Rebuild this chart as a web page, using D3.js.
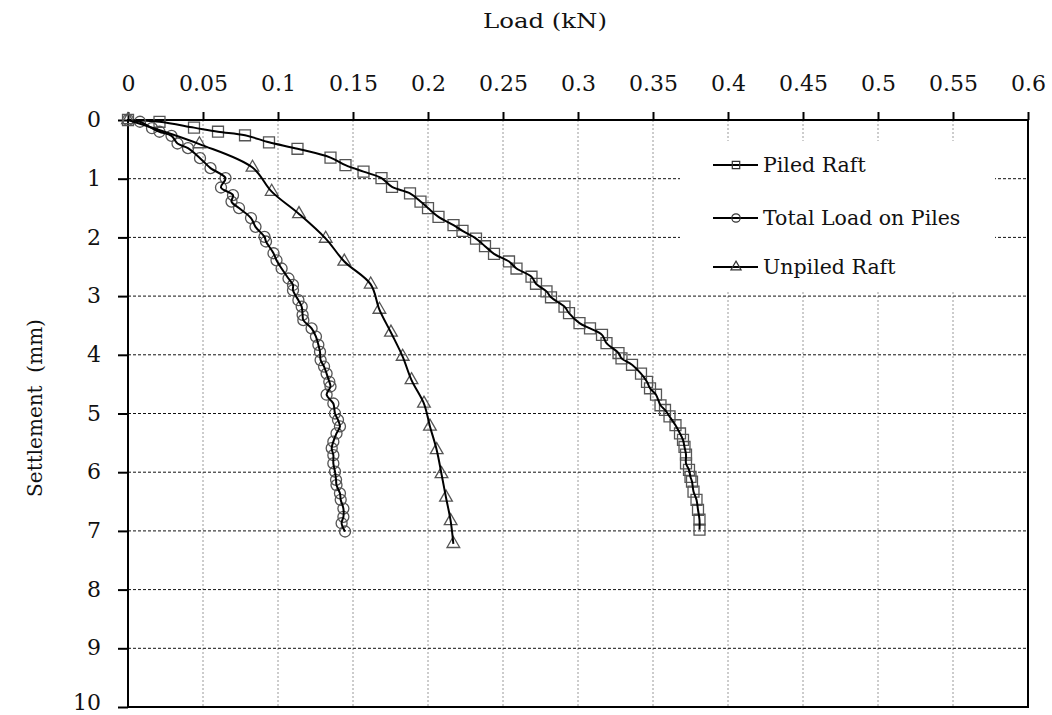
<!DOCTYPE html>
<html>
<head>
<meta charset="utf-8">
<script src="https://cdn.jsdelivr.net/npm/d3@7"></script>
<style>
html,body{margin:0;padding:0;background:#fff;}
svg{display:block;}
text{font-family:"DejaVu Serif",serif;fill:#111;}
</style>
</head>
<body>
<svg id="chart" width="1052" height="715"></svg>
<script>
// ---- data (load kN, settlement mm) ----
const seriesNames = ["Piled Raft", "Total Load on Piles", "Unpiled Raft"];
const xTicks = [0,0.05,0.1,0.15,0.2,0.25,0.3,0.35,0.4,0.45,0.5,0.55,0.6];
const xTickLabels = ["0","0.05","0.1","0.15","0.2","0.25","0.3","0.35","0.4","0.45","0.5","0.55","0.6"];
const yTicks = [0,1,2,3,4,5,6,7,8,9,10];

const piledRaftLoad = [0,0.021,0.044,0.060,0.078,0.094,0.113,0.135,0.145,0.157,0.169,0.176,0.188,0.195,0.200,0.207,0.217,0.223,0.232,0.238,0.244,0.254,0.259,0.269,0.272,0.279,0.282,0.291,0.294,0.301,0.308,0.316,0.319,0.327,0.329,0.336,0.342,0.346,0.348,0.352,0.355,0.358,0.361,0.365,0.368,0.370,0.371,0.372,0.372,0.374,0.375,0.376,0.377,0.379,0.380,0.381,0.381];
const piledRaftSettle = [0,0.03,0.13,0.20,0.26,0.38,0.49,0.64,0.77,0.88,0.99,1.14,1.25,1.39,1.50,1.65,1.79,1.89,2.02,2.15,2.28,2.41,2.53,2.67,2.79,2.92,3.02,3.18,3.29,3.46,3.55,3.66,3.80,3.97,4.06,4.17,4.32,4.46,4.57,4.68,4.86,4.94,5.05,5.20,5.34,5.45,5.57,5.70,5.85,5.96,6.08,6.16,6.33,6.47,6.64,6.81,6.98];

const pilesLoad = [0,0.008,0.016,0.021,0.029,0.033,0.040,0.048,0.055,0.065,0.062,0.070,0.069,0.074,0.082,0.085,0.091,0.092,0.097,0.099,0.1024,0.107,0.110,0.110,0.1136,0.1158,0.1164,0.1169,0.1224,0.1253,0.1269,0.128,0.1284,0.1307,0.1324,0.1342,0.135,0.1324,0.1369,0.138,0.140,0.1413,0.139,0.1369,0.1358,0.1369,0.1369,0.138,0.1387,0.139,0.1413,0.1418,0.1436,0.1436,0.1424,0.1447];
const pilesSettle = [0,0.03,0.14,0.20,0.27,0.40,0.48,0.65,0.82,0.99,1.15,1.28,1.39,1.50,1.67,1.82,1.99,2.07,2.27,2.39,2.53,2.70,2.81,2.90,3.07,3.18,3.32,3.41,3.55,3.69,3.83,3.95,4.09,4.20,4.32,4.46,4.54,4.68,4.83,5.00,5.11,5.22,5.34,5.48,5.59,5.71,5.85,5.99,6.13,6.22,6.36,6.47,6.62,6.76,6.87,7.01];

const unpiledLoad = [0,0.0476,0.083,0.0958,0.114,0.1318,0.1442,0.1618,0.1676,0.1753,0.1831,0.189,0.1973,0.2013,0.2058,0.209,0.212,0.2151,0.2169];
const unpiledSettle = [0,0.41,0.81,1.22,1.60,2.02,2.41,2.80,3.23,3.62,4.03,4.43,4.83,5.22,5.62,6.03,6.43,6.83,7.22];

// ---- layout ----
const svg = d3.select("#chart");
const L = 128, R = 1028, T = 120, B = 707;
const x = d3.scaleLinear().domain([0,0.6]).range([L,R]);
const y = d3.scaleLinear().domain([0,10]).range([T,B]);

// grid
svg.append("g").selectAll("line").data(xTicks.filter(d=>d>0 && d<0.6)).join("line")
  .attr("x1",d=>x(d)).attr("x2",d=>x(d)).attr("y1",T).attr("y2",B)
  .attr("stroke","#9a9a9a").attr("stroke-width",1).attr("stroke-dasharray","2,2");
svg.append("g").selectAll("line").data(yTicks.filter(d=>d>0 && d<10)).join("line")
  .attr("x1",L).attr("x2",R).attr("y1",d=>y(d)).attr("y2",d=>y(d))
  .attr("stroke","#111").attr("stroke-width",1).attr("stroke-dasharray","3,2");

// legend background (covers grid)
svg.append("rect").attr("x",680).attr("y",141).attr("width",315).attr("height",149).attr("fill","#fff");

// axes
const xAxis = d3.axisTop(x).tickValues(xTicks).tickFormat((d,i)=>xTickLabels[i]).tickSize(8).tickPadding(21);
const gx = svg.append("g").attr("transform",`translate(0,${T})`).call(xAxis);
const yAxis = d3.axisLeft(y).tickValues(yTicks).tickSize(10).tickPadding(17);
const gy = svg.append("g").attr("transform",`translate(${L},0)`).call(yAxis);
[gx,gy].forEach(g=>{
  g.attr("font-size",null).attr("font-family",null);
  g.select(".domain").remove();
  g.selectAll(".tick line").attr("stroke","#000").attr("stroke-width",2);
  g.selectAll(".tick text").style("font-family","DejaVu Serif").style("font-size","22px").attr("fill","#111");
});
gy.selectAll(".tick text").attr("dy",d=>d===10?"0.1em":"0.3em");

// frame
svg.append("rect").attr("x",L).attr("y",T).attr("width",R-L).attr("height",B-T)
  .attr("fill","none").attr("stroke","#000").attr("stroke-width",2);

// titles
svg.append("text").attr("x",545).attr("y",28).attr("text-anchor","middle")
  .style("font-size","21px").attr("textLength",124).attr("lengthAdjust","spacingAndGlyphs").text("Load (kN)");
svg.append("text").attr("transform","translate(42,408) rotate(-90)").attr("text-anchor","middle")
  .style("font-size","20px").attr("xml:space","preserve").style("white-space","pre").text("Settlement  (mm)");

// series
const series = [
  {name:seriesNames[0], xs:piledRaftLoad, ys:piledRaftSettle, sym:"square"},
  {name:seriesNames[1], xs:pilesLoad, ys:pilesSettle, sym:"circle"},
  {name:seriesNames[2], xs:unpiledLoad, ys:unpiledSettle, sym:"triangle"}
];
const symType = {square:d3.symbolSquare, circle:d3.symbolCircle, triangle:d3.symbolTriangle};
const symSize = {square:120, circle:95, triangle:70};
const line = d3.line().x(d=>x(d[0])).y(d=>y(d[1])).curve(d3.curveCatmullRom.alpha(0.5));

series.forEach(s=>{
  const pts = s.xs.map((v,i)=>[v,s.ys[i]]);
  const g = svg.append("g");
  g.selectAll("path.m").data(pts).join("path").attr("class","m")
    .attr("d",d3.symbol().type(symType[s.sym]).size(symSize[s.sym]))
    .attr("transform",d=>`translate(${x(d[0])},${y(d[1])})`)
    .attr("fill","none").attr("stroke","#555").attr("stroke-width",1.3);
  g.append("path").datum(pts).attr("d",line)
    .attr("fill","none").attr("stroke","#000").attr("stroke-width",2);
});

// legend
const legY = [165,218,267];
series.forEach((s,i)=>{
  const g = svg.append("g");
  g.append("line").attr("x1",713).attr("x2",758).attr("y1",legY[i]).attr("y2",legY[i])
    .attr("stroke","#000").attr("stroke-width",2);
  g.append("path").attr("d",d3.symbol().type(symType[s.sym]).size(s.sym==="triangle"?45:55))
    .attr("transform",`translate(736,${legY[i]})`).attr("fill","none").attr("stroke","#333").attr("stroke-width",1.2);
  g.append("text").attr("x",763).attr("y",legY[i]).attr("dy","0.35em")
    .style("font-size","20.5px").text(s.name);
});
</script>
</body>
</html>
